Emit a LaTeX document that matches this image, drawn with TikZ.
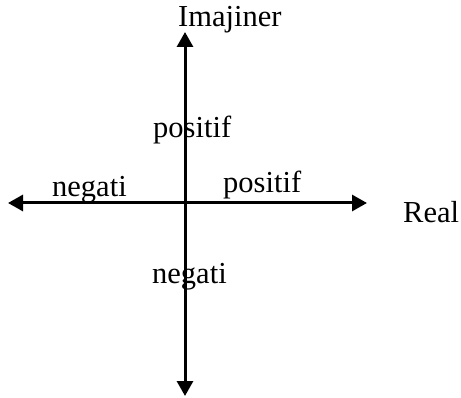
\documentclass[tikz,border=0pt]{standalone}
\usepackage{fontspec}
\setmainfont{Liberation Serif}
\usetikzlibrary{arrows.meta}
\begin{document}
\begin{tikzpicture}[x=1pt,y=-1pt,
  axis/.style={line width=3pt,{Triangle[length=15pt,width=16pt]}-{Triangle[length=15pt,width=16pt]}},
  lbl/.style={anchor=base west,inner sep=0pt,font=\fontsize{30.5}{36}\selectfont}]
\useasboundingbox (0,0) rectangle (461,398);
\coordinate (top) at (185,32);
\coordinate (bottom) at (185,396);
\coordinate (left) at (8,203);
\coordinate (right) at (367,203);
\draw[axis] (left) -- (right);
\draw[axis] (top) -- (bottom);
\node[lbl] (im) at (178,27) {Imajiner};
\node[lbl] (re) at (403,223) {Real};
\node[lbl] (pu) at (153,138) {positif};
\node[lbl] (pr) at (223,193) {positif};
\node[lbl] (nl) at (52,197) {negati};
\node[lbl] (nd) at (152,284) {negati};
\end{tikzpicture}
\end{document}
